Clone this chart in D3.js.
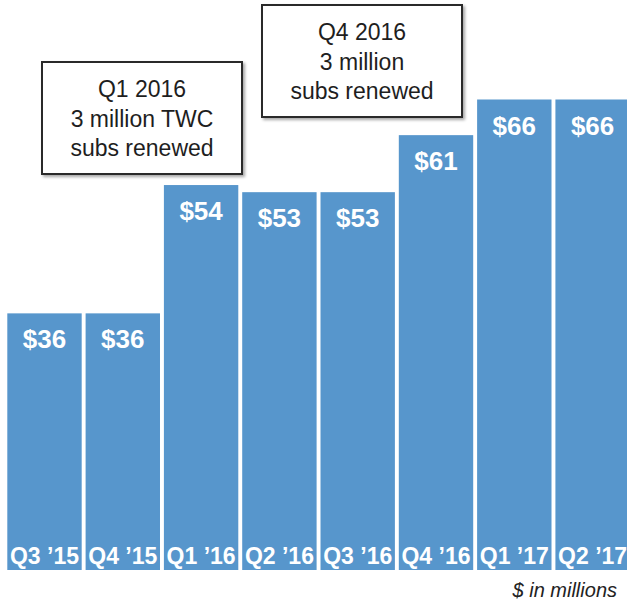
<!DOCTYPE html>
<html>
<head>
<meta charset="utf-8">
<script src="https://cdn.jsdelivr.net/npm/d3@7"></script>
<style>
  html, body { margin: 0; padding: 0; background: #fff; }
  svg { display: block; font-family: "Liberation Sans", Arial, Helvetica, sans-serif; }
</style>
</head>
<body>
<svg id="chart" width="627" height="602"></svg>
<script>
// Quarterly revenue, $ in millions
const quarters = ["Q3 \u201915", "Q4 \u201915", "Q1 \u201916", "Q2 \u201916", "Q3 \u201916", "Q4 \u201916", "Q1 \u201917", "Q2 \u201917"];
const revenue = [36, 36, 54, 53, 53, 61, 66, 66];

// Callout notes: the quarter they sit above and their text lines
const noteQuarters = ["Q1 \u201916", "Q4 \u201916"];
const noteLines = [
  ["Q1 2016", "3 million TWC", "subs renewed"],
  ["Q4 2016", "3 million", "subs renewed"]
];

const svg = d3.select("#chart");
const baseY = 570;

const x = d3.scaleBand()
  .domain(quarters)
  .range([7.3, 629.8])
  .paddingInner(0.05)
  .paddingOuter(0);

const y = d3.scaleLinear()
  .domain([0, 66])
  .range([baseY, 99.5]);

const barColor = "#5796cc";

// Soft shadow for the callout boxes
const defs = svg.append("defs");
const f = defs.append("filter").attr("id", "shadow")
  .attr("x", "-10%").attr("y", "-10%").attr("width", "130%").attr("height", "130%");
f.append("feDropShadow").attr("dx", 2).attr("dy", 2).attr("stdDeviation", 1.5)
  .attr("flood-color", "#000").attr("flood-opacity", 0.35);

// Bars
const bars = svg.append("g").selectAll("g")
  .data(quarters.map((q, i) => ({ q, v: revenue[i] })))
  .join("g");

bars.append("rect")
  .attr("x", d => x(d.q))
  .attr("y", d => y(d.v))
  .attr("width", x.bandwidth())
  .attr("height", d => baseY - y(d.v))
  .attr("fill", barColor);

// Value labels inside the top of each bar
bars.append("text")
  .attr("x", d => x(d.q) + x.bandwidth() / 2)
  .attr("y", d => y(d.v) + 35)
  .attr("text-anchor", "middle")
  .attr("fill", "#fff")
  .attr("font-size", 26)
  .attr("font-weight", "bold")
  .text(d => "$" + d.v);

// Quarter labels along the bottom of each bar
bars.append("text")
  .attr("x", d => x(d.q) + x.bandwidth() / 2)
  .attr("y", baseY - 6)
  .attr("text-anchor", "middle")
  .attr("fill", "#fff")
  .attr("font-size", 23)
  .attr("font-weight", "bold")
  .text(d => d.q);

// Callout boxes
const noteBoxes = [
  { left: 42, top: 62, w: 200, h: 112 },
  { left: 262, top: 5, w: 200, h: 112 }
];
noteBoxes.forEach((b, i) => {
  const g = svg.append("g");
  g.append("rect")
    .attr("x", b.left).attr("y", b.top)
    .attr("width", b.w).attr("height", b.h)
    .attr("fill", "#fff")
    .attr("stroke", "#2a2a2a")
    .attr("stroke-width", 2)
    .attr("filter", "url(#shadow)");
  g.selectAll("text")
    .data(noteLines[i])
    .join("text")
    .attr("x", b.left + b.w / 2)
    .attr("y", (d, j) => b.top + 35 + j * 29.7)
    .attr("text-anchor", "middle")
    .attr("fill", "#1e1e1e")
    .attr("font-size", 23)
    .text(d => d);
});

// Units note
svg.append("text")
  .attr("x", 617)
  .attr("y", 597)
  .attr("text-anchor", "end")
  .attr("fill", "#222")
  .attr("font-size", 20)
  .attr("font-style", "italic")
  .text("$ in millions");
</script>
</body>
</html>
